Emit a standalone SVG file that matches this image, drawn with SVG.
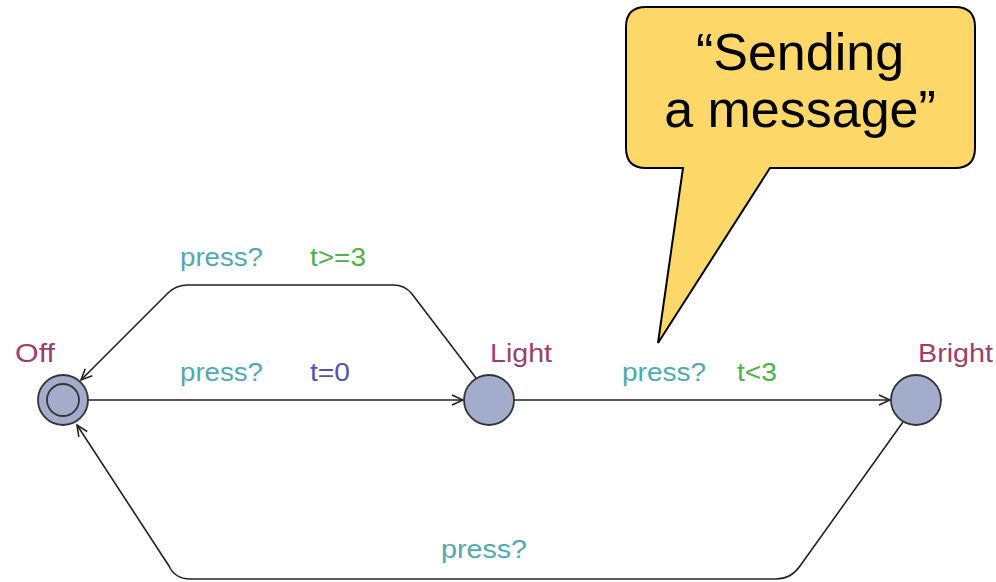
<svg xmlns="http://www.w3.org/2000/svg" width="996" height="582" viewBox="0 0 996 582">
<style>
.edge{fill:none;stroke:#222;stroke-width:1.6}
.node{fill:#a3adcb;stroke:#333;stroke-width:1.8}
.lbl{font-family:"Liberation Sans",Arial,sans-serif;font-size:25px}
.sync{fill:#4fa9b0}
.guard{fill:#4cb04c}
.assign{fill:#5252b8}
.name{fill:#9c3f6c}
.callout{font-family:"Liberation Sans",Arial,sans-serif;font-size:52px;fill:#000;text-anchor:middle}
</style>
<defs>
<marker id="arr" markerUnits="userSpaceOnUse" markerWidth="14" markerHeight="14" refX="0" refY="0" orient="auto" overflow="visible" viewBox="-12 -7 14 14">
<path d="M-11,-5 L0,0 L-11,5" fill="none" stroke="#222" stroke-width="1.6"/>
</marker>
</defs>
<rect width="996" height="582" fill="#fff"/>
<g id="connectors">
<path class="edge" d="M476,378 L412,294 Q405,285 393,285 L188,285 Q176,285 168,293 L81,380" marker-end="url(#arr)"/>
<path class="edge" d="M88,400 L463,400" marker-end="url(#arr)"/>
<path class="edge" d="M514,400 L890,400" marker-end="url(#arr)"/>
<path class="edge" d="M903,422 L800,566 Q791,579 776,579 L190,579 Q175,579 169,566 L77,425" marker-end="url(#arr)"/>
</g>
<g id="labels">
<text class="lbl sync" x="180" y="266" textLength="83" lengthAdjust="spacingAndGlyphs">press?</text>
<text class="lbl guard" x="310" y="266" textLength="56" lengthAdjust="spacingAndGlyphs">t&gt;=3</text>
<text class="lbl sync" x="180" y="381" textLength="83" lengthAdjust="spacingAndGlyphs">press?</text>
<text class="lbl assign" x="310" y="381" textLength="40" lengthAdjust="spacingAndGlyphs">t=0</text>
<text class="lbl sync" x="622" y="381" textLength="84" lengthAdjust="spacingAndGlyphs">press?</text>
<text class="lbl guard" x="737" y="381" textLength="40" lengthAdjust="spacingAndGlyphs">t&lt;3</text>
<text class="lbl sync" x="441" y="558" textLength="86" lengthAdjust="spacingAndGlyphs">press?</text>
</g>
<g id="Off">
<circle class="node" cx="63" cy="400" r="25"/>
<circle class="node" cx="63" cy="400" r="16"/>
<text class="lbl name" x="15" y="362" textLength="40" lengthAdjust="spacingAndGlyphs">Off</text>
</g>
<g id="Light">
<circle class="node" cx="489" cy="400" r="25"/>
<text class="lbl name" x="490" y="362" textLength="62" lengthAdjust="spacingAndGlyphs">Light</text>
</g>
<g id="Bright">
<circle class="node" cx="916" cy="400" r="25"/>
<text class="lbl name" x="918" y="362" textLength="75" lengthAdjust="spacingAndGlyphs">Bright</text>
</g>
<g id="callout">
<path d="M646,7 H955 Q975,7 975,27 V148 Q975,168 955,168 H770 L658,343 L683,168 H646 Q626,168 626,148 V27 Q626,7 646,7 Z" fill="#fdd868" stroke="#000" stroke-width="2"/>
<text class="callout" x="800" y="70">“Sending</text>
<text class="callout" x="800" y="127">a message”</text>
</g>
</svg>
